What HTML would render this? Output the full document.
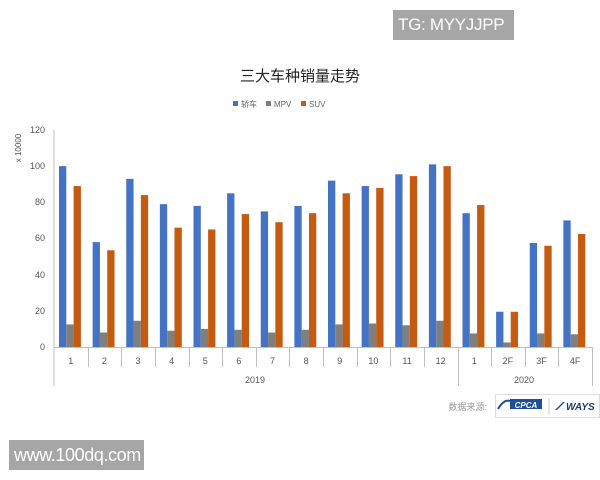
<!DOCTYPE html>
<html><head><meta charset="utf-8"><style>
body{margin:0;width:600px;height:480px;background:#fff;position:relative;overflow:hidden;font-family:"Liberation Sans","Noto Sans CJK SC",sans-serif}
.box{position:absolute;background:#a6a6a6;color:#fff;line-height:30px;padding-left:5px;white-space:nowrap;overflow:hidden;box-sizing:border-box}
</style></head><body>
<div class="box" style="left:393px;top:10px;width:121px;height:30px;font-size:17px;letter-spacing:-0.3px">TG: MYYJJPP</div>
<div class="box" style="left:9px;top:440px;width:135px;height:30px;font-size:18px;letter-spacing:-0.4px">www.100dq.com</div>
<svg width="600" height="480" style="position:absolute;left:0;top:0" font-family="Liberation Sans, Noto Sans CJK SC, sans-serif">
<text x="300" y="81" text-anchor="middle" font-size="15" fill="#222">三大车种销量走势</text>
<rect x="233" y="101" width="5" height="5" fill="#4472c4"/><text x="241" y="107" font-size="8" fill="#666">轿车</text>
<rect x="266" y="101" width="5" height="5" fill="#7f7f7f"/><text x="274" y="107" font-size="8" fill="#666">MPV</text>
<rect x="301" y="101" width="5" height="5" fill="#c55a11"/><text x="309" y="107" font-size="8" fill="#666">SUV</text>
<text transform="translate(21,148) rotate(-90)" font-size="8" fill="#555" text-anchor="middle">x 10000</text>
<g font-size="9" fill="#555" text-anchor="end">
<text x="45" y="133">120</text><text x="45" y="169">100</text><text x="45" y="205">80</text><text x="45" y="241">60</text><text x="45" y="278">40</text><text x="45" y="314">20</text><text x="45" y="350">0</text></g>
<g stroke="#bfbfbf" stroke-width="1">
<line x1="54" y1="130" x2="54" y2="386"/><line x1="54" y1="347.5" x2="592" y2="347.5"/>
</g>
<g id="bars"></g>
<g id="cats" font-size="9" fill="#555" text-anchor="middle"></g>
<text x="255" y="383" font-size="9" fill="#555" text-anchor="middle">2019</text>
<text x="524" y="383" font-size="9" fill="#555" text-anchor="middle">2020</text>
<text x="487" y="410" font-size="9" fill="#999" text-anchor="end">数据来源:</text>
<rect x="495.5" y="394.5" width="104" height="23" fill="#fff" stroke="#ddd"/>
<rect x="510" y="399" width="32" height="10" fill="#1f4e99"/><text x="526" y="408" font-size="8" font-weight="bold" fill="#fff" text-anchor="middle" font-style="italic">CPCA</text>
<path d="M498 409 q6 -10 12 -8" stroke="#1f4e99" stroke-width="2" fill="none"/>
<line x1="549" y1="398" x2="549" y2="414" stroke="#ccc"/>
<path d="M555 410 l8 -8 l2 0 l-8 8z" fill="#1f4e99"/>
<text x="566" y="410" font-size="10" font-weight="bold" font-style="italic" fill="#1f3a70">WAYS</text>
</svg>
<script>
var s=[100,58,93,79,78,85,75,78,92,89,95.5,101,74,19.5,57.5,70],
m=[12.5,8,14.5,9,10,9.5,8,9.5,12.5,13,12,14.5,7.5,2.5,7.5,7],
u=[89,53.5,84,66,65,73.5,69,74,85,88,94.5,100,78.5,19.5,56,62.5],
l=["1","2","3","4","5","6","7","8","9","10","11","12","1","2F","3F","4F"];
var ns="http://www.w3.org/2000/svg",b=document.getElementById("bars"),c=document.getElementById("cats");
function r(x,v,col){var e=document.createElementNS(ns,"rect");var h=v*217/120;e.setAttribute("x",x);e.setAttribute("y",347-h);e.setAttribute("width",7.3);e.setAttribute("height",h);e.setAttribute("fill",col);b.appendChild(e);}
var w=538/16;
for(var i=0;i<16;i++){var x=54+w*i;r(x+5,s[i],"#4472c4");r(x+12.3,m[i],"#7f7f7f");r(x+19.6,u[i],"#c55a11");
var t=document.createElementNS(ns,"text");t.setAttribute("x",x+w/2);t.setAttribute("y",364);t.textContent=l[i];c.appendChild(t);
var L=document.createElementNS(ns,"line");var xx=Math.round(x+w)+0.5;L.setAttribute("x1",xx);L.setAttribute("x2",xx);L.setAttribute("y1",347);L.setAttribute("y2",(i==11||i==15)?386:367);L.setAttribute("stroke","#bfbfbf");c.appendChild(L);}
</script>
</body></html>
